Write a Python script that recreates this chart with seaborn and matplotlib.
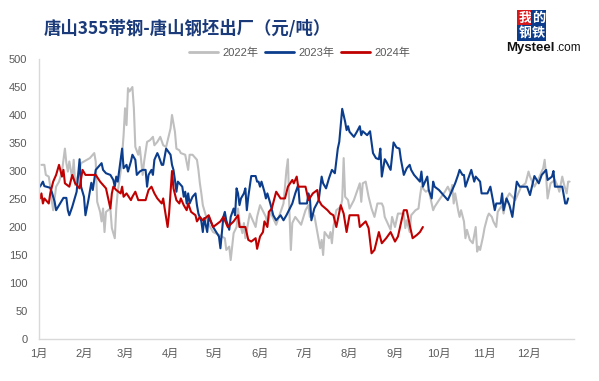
import pandas as pd
import matplotlib.pyplot as plt
import seaborn as sns

# day of year (0 = 1 Jan) and price
days_2022 = [2, 4, 5, 7, 8, 9, 10, 12, 14, 16, 18, 19, 20, 21, 23, 24, 25, 27, 29, 35,
             38, 39, 40, 42, 43, 44, 45, 46, 49, 50, 52, 53, 54, 56, 57, 58, 59, 60, 61, 62,
             64, 65, 66, 68, 69, 71, 72, 74, 76, 78, 79, 81, 83, 85, 87, 90, 91, 93, 94, 96,
             97, 100, 102, 103, 105, 108, 109, 110, 111, 112, 115, 117, 119, 123, 127, 128, 130, 131, 133, 135,
             136, 137, 139, 140, 141, 144, 148, 149, 151, 155, 156, 158, 162, 165, 167, 169, 170, 171, 172, 173,
             175, 179, 182, 184, 185, 188, 192, 193, 194, 195, 198, 199, 200, 201, 203, 206, 207, 208, 209, 211,
             212, 215, 217, 219, 220, 221, 223, 225, 227, 229, 231, 234, 235, 236, 240, 241, 243, 245, 249, 250,
             251, 253, 254, 257, 259, 260, 261, 264, 266, 269, 270, 273, 277, 279, 281, 282, 283, 284, 285, 286,
             287, 288, 290, 291, 292, 294, 296, 298, 299, 300, 301, 303, 304, 306, 307, 309, 310, 312, 313, 316,
             317, 319, 321, 325, 329, 332, 334, 335, 338, 341, 343, 344, 345, 346, 347, 349, 352, 354, 355, 357,
             358, 360, 361, 362]
vals_2022 = [311, 311, 293, 290, 272, 248, 230, 272, 281, 299, 340, 314, 299, 317, 287, 320, 275, 293, 314, 323,
             332, 317, 245, 227, 210, 233, 191, 227, 233, 198, 180, 233, 263, 299, 329, 364, 412, 382, 448, 442,
             450, 412, 343, 329, 343, 293, 317, 352, 355, 361, 346, 352, 361, 346, 343, 376, 400, 370, 340, 337,
             332, 329, 302, 329, 329, 320, 302, 278, 260, 239, 212, 200, 191, 186, 180, 159, 165, 141, 189, 200,
             233, 210, 189, 207, 180, 224, 200, 218, 239, 218, 204, 227, 204, 227, 242, 302, 321, 230, 159, 207,
             218, 204, 230, 239, 218, 221, 162, 177, 150, 191, 180, 191, 171, 200, 230, 236, 248, 323, 254, 248,
             233, 248, 263, 278, 245, 278, 281, 254, 233, 218, 242, 242, 236, 218, 195, 218, 200, 224, 224, 198,
             212, 191, 221, 230, 233, 254, 272, 263, 266, 230, 236, 248, 263, 272, 260, 275, 242, 260, 245, 230,
             218, 230, 210, 180, 195, 177, 171, 200, 156, 165, 159, 183, 198, 218, 224, 218, 210, 200, 227, 239,
             224, 251, 260, 248, 272, 278, 299, 290, 272, 287, 299, 305, 320, 290, 251, 278, 284, 272, 263, 290,
             278, 260, 281, 281]

days_2023 = [1, 3, 4, 8, 9, 10, 11, 12, 15, 17, 19, 20, 21, 23, 26, 28, 29, 31, 32, 34,
             36, 37, 39, 43, 44, 46, 49, 51, 52, 53, 54, 57, 58, 60, 61, 63, 64, 66, 67, 69,
             71, 73, 74, 75, 77, 78, 79, 81, 82, 84, 85, 87, 90, 91, 92, 93, 94, 95, 98, 99,
             100, 101, 102, 103, 105, 107, 108, 109, 111, 112, 113, 115, 116, 119, 123, 124, 125, 126, 127, 128,
             130, 131, 133, 134, 135, 136, 137, 138, 140, 141, 142, 143, 145, 148, 149, 150, 151, 152, 154, 155,
             156, 158, 160, 162, 165, 167, 169, 173, 175, 177, 178, 183, 184, 185, 186, 188, 191, 193, 194, 196,
             198, 200, 202, 204, 205, 207, 209, 210, 211, 212, 215, 217, 219, 220, 221, 224, 226, 228, 230, 232,
             233, 234, 236, 237, 240, 242, 244, 246, 247, 249, 251, 253, 254, 256, 258, 260, 261, 262, 265, 266,
             268, 269, 270, 273, 276, 279, 281, 284, 286, 287, 289, 290, 291, 293, 295, 297, 298, 301, 302, 306,
             308, 311, 312, 315, 316, 317, 319, 321, 323, 326, 328, 333, 335, 338, 341, 343, 346, 347, 350, 351,
             352, 357, 359, 360, 361]
vals_2023 = [272, 281, 273, 270, 263, 254, 245, 230, 243, 252, 252, 230, 221, 236, 263, 321, 272, 254, 221, 248,
             279, 266, 302, 314, 302, 296, 293, 284, 272, 290, 281, 340, 305, 311, 299, 317, 329, 320, 293, 299,
             302, 302, 272, 293, 302, 293, 320, 332, 326, 311, 311, 340, 329, 311, 302, 284, 263, 281, 272, 254,
             263, 242, 260, 242, 254, 260, 239, 224, 210, 191, 216, 191, 218, 200, 183, 162, 189, 218, 227, 212,
             195, 218, 233, 221, 269, 260, 239, 251, 260, 269, 230, 254, 291, 291, 281, 281, 272, 281, 263, 251,
             260, 242, 221, 212, 221, 212, 221, 242, 260, 275, 242, 242, 260, 251, 212, 233, 248, 290, 278, 269,
             287, 302, 296, 340, 352, 411, 388, 373, 380, 370, 361, 370, 380, 364, 371, 364, 371, 332, 323, 321,
             340, 290, 321, 317, 302, 351, 342, 340, 321, 293, 305, 311, 302, 293, 287, 281, 299, 272, 290, 266,
             251, 281, 272, 266, 257, 248, 260, 278, 293, 302, 293, 293, 272, 287, 302, 281, 290, 281, 260, 260,
             272, 230, 242, 242, 260, 230, 251, 239, 218, 281, 272, 272, 257, 291, 278, 293, 302, 284, 290, 300,
             272, 272, 242, 242, 251]

days_2024 = [1, 2, 3, 4, 7, 8, 10, 12, 14, 16, 17, 18, 21, 23, 25, 28, 30, 32, 39, 42,
             46, 49, 50, 51, 53, 56, 57, 58, 60, 63, 64, 66, 68, 73, 75, 77, 79, 81, 84, 85,
             86, 88, 89, 91, 92, 94, 96, 97, 99, 101, 102, 104, 107, 108, 110, 112, 116, 119, 124, 126,
             129, 133, 136, 137, 141, 143, 145, 148, 149, 151, 153, 154, 156, 157, 159, 162, 165, 168, 170, 173,
             174, 176, 177, 182, 184, 187, 190, 191, 193, 197, 199, 201, 203, 206, 208, 210, 212, 218, 219, 223,
             225, 227, 229, 232, 234, 237, 240, 243, 245, 249, 251, 253, 255, 258, 260, 262]
vals_2024 = [251, 260, 242, 251, 242, 260, 281, 293, 311, 290, 302, 278, 272, 293, 278, 269, 302, 293, 293, 281,
             269, 233, 260, 272, 266, 260, 272, 254, 260, 248, 254, 263, 248, 248, 266, 272, 260, 251, 242, 251,
             233, 200, 224, 300, 269, 248, 242, 251, 239, 230, 242, 227, 221, 210, 218, 212, 221, 200, 210, 218,
             200, 210, 221, 200, 200, 177, 174, 180, 161, 183, 191, 210, 200, 227, 233, 263, 251, 251, 272, 284,
             278, 290, 272, 272, 248, 260, 266, 248, 239, 230, 224, 221, 200, 239, 224, 191, 221, 221, 200, 210,
             198, 153, 159, 191, 171, 180, 191, 174, 183, 230, 230, 204, 180, 186, 191, 200]

years = ['2022年', '2023年', '2024年']
month_starts = [0, 31, 59, 90, 120, 151, 181, 212, 243, 273, 304, 334, 365]
month_labels = [f'{m}月' for m in range(1, 13)]

frames = []
for yr, d, v in zip(years, [days_2022, days_2023, days_2024], [vals_2022, vals_2023, vals_2024]):
    frames.append(pd.DataFrame({'day': d, 'price': v, 'year': yr}))
df = pd.concat(frames, ignore_index=True)

sns.set_style('white')
plt.rcParams['font.family'] = ['Liberation Sans', 'Noto Sans CJK SC', 'DejaVu Sans']

fig = plt.figure(figsize=(5.99, 3.81), dpi=100)
ax = fig.add_axes([38.5 / 599, 42 / 381, 535.5 / 599, 280 / 381])

palette = ['#bfbfbf', '#0b3d8c', '#c00000']
sns.lineplot(data=df, x='day', y='price', hue='year', hue_order=years, palette=palette,
             estimator=None, linewidth=1.5, ax=ax, legend=False)

ax.set_xlim(0, 365)
ax.set_ylim(0, 500)
ax.set_yticks(range(0, 501, 50))
ax.set_xticks(month_starts)
ax.set_xticklabels(month_labels + [''])
ax.set_xlabel('')
ax.set_ylabel('')

for s in ['top', 'right']:
    ax.spines[s].set_visible(False)
for s in ['left', 'bottom']:
    ax.spines[s].set_color('#d9d9d9')
    ax.spines[s].set_linewidth(1)
ax.tick_params(axis='y', direction='out', length=4, color='#d9d9d9', labelcolor='#595959',
               labelsize=8, pad=4)
ax.tick_params(axis='x', direction='in', length=5, color='#d9d9d9', labelcolor='#595959',
               labelsize=8, pad=7)

# legend
handles = [plt.Line2D([], [], color=c, linewidth=2) for c in palette]
fig.legend(handles, years, loc='center', bbox_to_anchor=(300 / 599, 1 - 53 / 381), ncol=3,
           frameon=False, fontsize=8, labelcolor='#595959', handlelength=2.6,
           handletextpad=0.4, columnspacing=0.6)

# title
fig.text(44 / 599, 1 - 29 / 381, '唐山355带钢-唐山钢坯出厂（元/吨）', fontsize=12.5,
         fontweight='bold', color='#1a3a7a', va='center', ha='left',
         family=['Noto Sans CJK SC', 'DejaVu Sans'])

# Mysteel logo
logo = [('我', 525, 18, '#d7191c'), ('的', 538.5, 18, '#0b3d8c'),
        ('钢', 525, 33, '#0b3d8c'), ('铁', 538.5, 33, '#0b3d8c')]
for ch, lx, ly, bg in logo:
    fig.text(lx / 599, 1 - ly / 381, ch, fontsize=9.5, color='white', ha='center', va='center',
             family=['Noto Sans CJK SC'], fontweight='bold',
             bbox=dict(boxstyle='square,pad=0.1', fc=bg, ec='none'))
fig.text(555 / 599, 1 - 48 / 381, 'Mysteel', fontsize=9.5, fontweight='bold', color='#111111',
         ha='right', va='center')
fig.text(556 / 599, 1 - 48 / 381, '.com', fontsize=8.5, color='#111111', ha='left', va='center')

fig.savefig('out.png', dpi=100)
plt.close(fig)
